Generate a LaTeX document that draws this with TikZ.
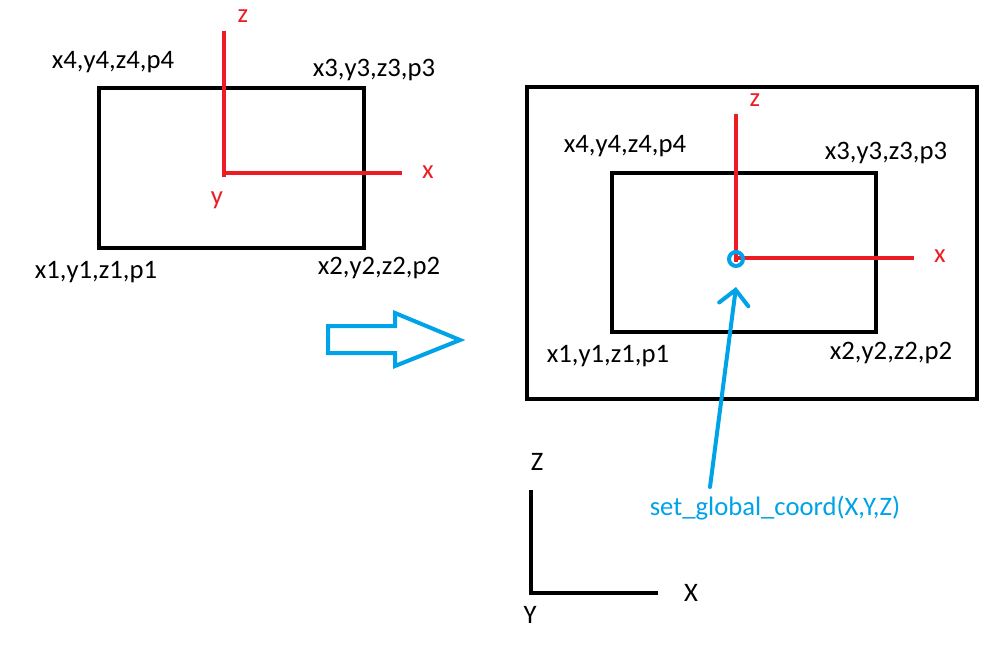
\documentclass[tikz,border=0pt]{standalone}
\usepackage{fontspec}
\setmainfont{Carlito}
\usetikzlibrary{arrows.meta}
\usetikzlibrary{positioning}
\definecolor{paintred}{RGB}{237,28,36}
\definecolor{paintblue}{RGB}{0,162,232}

\begin{document}
\begin{tikzpicture}[x=0.75pt,y=-0.75pt,
		frame/.style={draw=black,line width=3.4pt},
		localaxis/.style={draw=paintred,line width=3pt},
		globalaxis/.style={draw=black,line width=3pt},
		corner/.style={inner sep=0pt,font=\fontsize{20}{24}\selectfont},
		axname/.style={corner,text=paintred},
		pointer/.style={draw=paintblue,line width=3pt,line cap=round,-{Straight Barb[length=11pt,width=22pt,line cap=round]}}]
	\useasboundingbox (0,0) rectangle (988,659);

	% local element, before the move
	\draw[frame] (99,88) rectangle (364,248);
	\coordinate (O1) at (224,173);
	\draw[localaxis] (224,31) -- (224,177);
	\draw[localaxis] (O1) -- (402,173);
	\node[axname] (z1) at (243,16) {z};
	\node[axname] (x1) at (428,172) {x};
	\node[axname] (y1) at (217,200) {y};
	\node[corner] (A4) at (113,62) {x4,y4,z4,p4};
	\node[corner] (A3) at (374,70) {x3,y3,z3,p3};
	\node[corner] (A1) at (96,272) {x1,y1,z1,p1};
	\node[corner] (A2) at (379,268) {x2,y2,z2,p2};

	% the big arrow
	\draw[draw=paintblue,line width=3pt]
		(328,326) -- (395,326) -- (395,313) -- (460,340) -- (395,366) -- (395,353) -- (328,353) -- cycle;

	% element placed in the global frame
	\draw[frame] (527,87) rectangle (977,399);
	\draw[frame] (612,173) rectangle (876,332);
	\draw[localaxis] (736,114) -- (736,262);
	\draw[localaxis] (736,258) -- (914,258);
	\node[axname] (z2) at (755,100) {z};
	\node[axname] (x2) at (940,256) {x};
	\node[corner] (B4) at (625,146) {x4,y4,z4,p4};
	\node[corner] (B3) at (886,153) {x3,y3,z3,p3};
	\node[corner] (B1) at (608,356) {x1,y1,z1,p1};
	\node[corner] (B2) at (891,353) {x2,y2,z2,p2};
	\node[circle,draw=paintblue,line width=3pt,minimum size=10.5pt,inner sep=0pt] (O2) at (736,259) {};

	% global axes
	\coordinate (G) at (531,593);
	\draw[globalaxis] (531,490) -- (G) -- (658,593);
	\node[corner] (GZ) at (537,462) {Z};
	\node[corner] (GX) at (691,593) {X};
	\node[corner] (GY) at (530,615) {Y};

	% call
	\node[corner,text=paintblue] (call) at (775,508) {set\_global\_coord(X,Y,Z)};
	\coordinate (callfoot) at (710,487);
	\draw[pointer] (callfoot) -- ([yshift=-21]O2.center);
\end{tikzpicture}
\end{document}
